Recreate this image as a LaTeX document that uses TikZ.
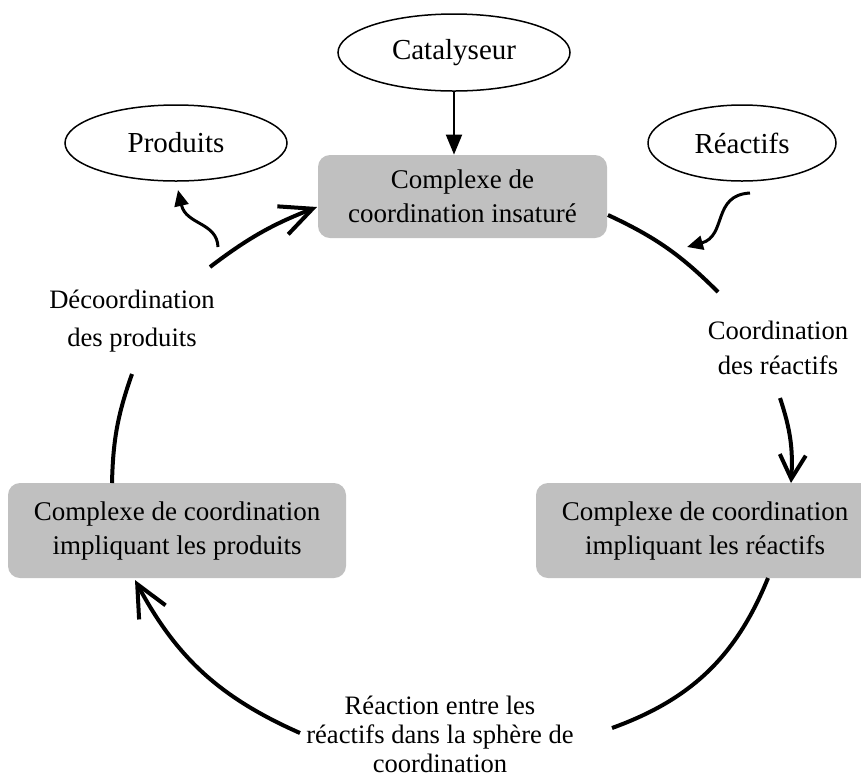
\documentclass[tikz,border=0pt]{standalone}
\usepackage{fontspec}
\setmainfont{Liberation Serif}
\usetikzlibrary{arrows.meta,shapes.geometric}
\definecolor{boxgray}{RGB}{192,192,192}
\begin{document}
\begin{tikzpicture}[x=0.5pt,y=-0.5pt,
  box/.style={fill=boxgray, rounded corners=6pt, align=center,
    font=\fontsize{13.5}{17}\selectfont, inner sep=0pt},
  ell/.style={ellipse, draw, line width=0.75pt, inner sep=0pt,
    font=\fontsize{14.5}{17}\selectfont},
  lbl/.style={align=center, inner sep=0pt},
  cyc/.style={line width=2pt},
  cyctip/.style={-{Straight Barb[length=16pt,width=15pt]}},
  curly/.style={line width=1.5pt, -{Triangle[length=8pt,width=7pt]}},
]
\useasboundingbox (0,0) rectangle (861,778);

% reagents, catalyst and products
\node[ell, minimum width=116pt, minimum height=38.5pt] (cat) at (454,52.5) {Catalyseur};
\node[ell, minimum width=111pt, minimum height=38pt] (prod) at (176,143) {Produits};
\node[ell, minimum width=94pt, minimum height=38pt] (reac) at (742,143) {Réactifs};

% the three coordination complexes
\node[box, minimum width=144.5pt, minimum height=41.5pt] (top) at (462.5,196.5)
  {Complexe de\\coordination insaturé};
\node[box, minimum width=169pt, minimum height=47.5pt] (left) at (177,530.5)
  {Complexe de coordination\\impliquant les produits};
\begin{scope}
  \clip (0,0) rectangle (861,778);
  \node[box, minimum width=169pt, minimum height=47.5pt] (right) at (705,530.5)
    {Complexe de coordination\\impliquant les réactifs};
\end{scope}

% step labels
\node[lbl, font=\fontsize{13.3}{19}\selectfont] (decoord) at (132,321)
  {Décoordination\\des produits};
\node[lbl, font=\fontsize{13.3}{17.5}\selectfont] (coordreac) at (778,347.5)
  {Coordination\\des réactifs};
\node[lbl, font=\fontsize{13.3}{14.5}\selectfont] (reaction) at (440,734)
  {Réaction entre les\\réactifs dans la sphère de\\coordination};

% catalyst enters the cycle
\draw[line width=1pt, -{Triangle[length=10pt,width=8pt]}]
  (cat.south) -- (cat.south |- top.north);

% ends of the cycle arcs
\coordinate (a1s) at (210,267);
\coordinate (a1e) at (317,207);
\coordinate (a2s) at (112,483);
\coordinate (a2e) at (132,374);
\coordinate (a3s) at (608,215);
\coordinate (a3e) at (718,292);
\coordinate (a4s) at (780,398);
\coordinate (a4e) at (791,483);
\coordinate (a5s) at (768,578);
\coordinate (a5e) at (612,728);
\coordinate (a6s) at (300,733);
\coordinate (a6e) at (135,580);

\draw[cyc, cyctip] (a1s) to[bend left=8] (a1e);
\draw[cyc] (a2s) to[bend left=9] (a2e);
\draw[cyc] (a3s) to[bend left=10] (a3e);
\draw[cyc, -{Straight Barb[length=12pt,width=13pt]}] (a4s) to[bend left=11] (a4e);
\draw[cyc] (a5s) to[bend left=24] (a5e);
\draw[cyc, cyctip] (a6s) to[bend left=19] (a6e);

% products leaving, reagents arriving
\coordinate (p1) at (218,247);
\coordinate (p2) at (178,190);
\draw[curly] (p1) .. controls (217,222) and (186,225) .. (p2);
\coordinate (r1) at (750,193);
\coordinate (r2) at (687,247);
\draw[curly] (r1) .. controls (712,195) and (727,236) .. (r2);
\end{tikzpicture}
\end{document}
